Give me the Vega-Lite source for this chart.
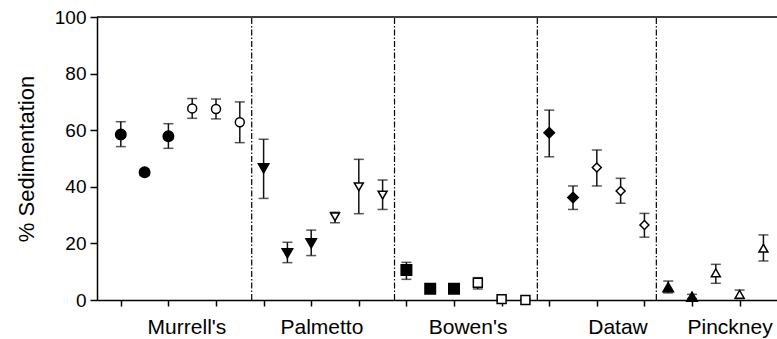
{
  "$schema": "https://vega.github.io/schema/vega-lite/v6.json",
  "width": 680,
  "height": 283,
  "autosize": {"type": "none"},
  "padding": {"left": 97, "top": 17, "right": 0, "bottom": 39},
  "background": "white",
  "config": {
    "view": {"stroke": null},
    "font": "Liberation Sans",
    "axisY": {
      "grid": false, "domainColor": "black", "domainWidth": 1.5, "tickColor": "black", "tickWidth": 1.5,
      "tickSize": 7, "labelFontSize": 19, "labelColor": "black", "labelPadding": 4, "labelFont": "Liberation Sans",
      "titleFontSize": 22, "titleFontWeight": "normal", "titleColor": "black", "titlePadding": 16, "titleFont": "Liberation Sans"
    },
    "axisX": {
      "grid": false, "domainColor": "black", "domainWidth": 1.5, "tickColor": "black", "tickWidth": 1.5,
      "tickSize": 6, "labels": false
    }
  },
  "datasets": {
    "pts": [
      {"site": "Murrell's", "idx": 0, "set": "1", "mean": 58.5, "lo": 54.2, "hi": 63.0},
      {"site": "Murrell's", "idx": 1, "set": "1", "mean": 45.1, "lo": 44.0, "hi": 46.2},
      {"site": "Murrell's", "idx": 2, "set": "1", "mean": 57.9, "lo": 53.6, "hi": 62.3},
      {"site": "Murrell's", "idx": 3, "set": "2", "mean": 67.7, "lo": 64.2, "hi": 71.2},
      {"site": "Murrell's", "idx": 4, "set": "2", "mean": 67.5, "lo": 64.0, "hi": 71.0},
      {"site": "Murrell's", "idx": 5, "set": "2", "mean": 62.8, "lo": 55.6, "hi": 70.0},
      {"site": "Palmetto", "idx": 6, "set": "1", "mean": 46.5, "lo": 35.9, "hi": 56.8},
      {"site": "Palmetto", "idx": 7, "set": "1", "mean": 16.5, "lo": 13.2, "hi": 20.4},
      {"site": "Palmetto", "idx": 8, "set": "1", "mean": 20.0, "lo": 15.7, "hi": 24.7},
      {"site": "Palmetto", "idx": 9, "set": "2", "mean": 29.4, "lo": 27.3, "hi": 31.0},
      {"site": "Palmetto", "idx": 10, "set": "2", "mean": 40.0, "lo": 30.5, "hi": 49.7},
      {"site": "Palmetto", "idx": 11, "set": "2", "mean": 37.1, "lo": 32.0, "hi": 42.4},
      {"site": "Bowen's", "idx": 12, "set": "1", "mean": 10.6, "lo": 7.3, "hi": 13.3},
      {"site": "Bowen's", "idx": 13, "set": "1", "mean": 4.0, "lo": 3.0, "hi": 5.0},
      {"site": "Bowen's", "idx": 14, "set": "1", "mean": 4.0, "lo": 3.0, "hi": 5.0},
      {"site": "Bowen's", "idx": 15, "set": "2", "mean": 6.1, "lo": 3.9, "hi": 7.9},
      {"site": "Bowen's", "idx": 16, "set": "2", "mean": 0.3, "lo": 0.0, "hi": 0.6},
      {"site": "Bowen's", "idx": 17, "set": "2", "mean": 0.0, "lo": 0.0, "hi": 0.3},
      {"site": "Dataw", "idx": 18, "set": "1", "mean": 59.1, "lo": 50.6, "hi": 67.1},
      {"site": "Dataw", "idx": 19, "set": "1", "mean": 36.2, "lo": 32.0, "hi": 40.3},
      {"site": "Dataw", "idx": 20, "set": "2", "mean": 46.8, "lo": 40.3, "hi": 53.0},
      {"site": "Dataw", "idx": 21, "set": "2", "mean": 38.5, "lo": 34.2, "hi": 43.0},
      {"site": "Dataw", "idx": 22, "set": "2", "mean": 26.5, "lo": 22.2, "hi": 30.6},
      {"site": "Pinckney", "idx": 23, "set": "1", "mean": 4.5, "lo": 2.5, "hi": 6.7},
      {"site": "Pinckney", "idx": 24, "set": "1", "mean": 1.2, "lo": 0.5, "hi": 2.0},
      {"site": "Pinckney", "idx": 25, "set": "2", "mean": 9.6, "lo": 5.9, "hi": 12.6},
      {"site": "Pinckney", "idx": 26, "set": "2", "mean": 2.0, "lo": 0.5, "hi": 3.5},
      {"site": "Pinckney", "idx": 27, "set": "2", "mean": 18.3, "lo": 13.8, "hi": 23.0}
    ],
    "labels": [
      {"site": "Murrell's", "pos": 2.78},
      {"site": "Palmetto", "pos": 8.45},
      {"site": "Bowen's", "pos": 14.59},
      {"site": "Dataw", "pos": 20.89},
      {"site": "Pinckney", "pos": 25.6}
    ],
    "seps": [{"pos": 5.5}, {"pos": 11.5}, {"pos": 17.5}, {"pos": 22.5}],
    "top": [{"top": 100}]
  },
  "layer": [
    {
      "data": {"name": "top"},
      "mark": {"type": "rule", "color": "black", "strokeWidth": 1.5},
      "encoding": {
        "y": {"field": "top", "type": "quantitative", "title": "% Sedimentation"}
      }
    },
    {
      "data": {"name": "seps"},
      "mark": {"type": "rule", "color": "black", "strokeWidth": 1.2, "strokeDash": [6, 2, 1.5, 2]},
      "encoding": {
        "x": {"field": "pos", "type": "quantitative", "title": null},
        "y": {"datum": 0},
        "y2": {"datum": 100}
      }
    },
    {
      "data": {"name": "pts"},
      "mark": {"type": "rule", "color": "#111", "strokeWidth": 1.5},
      "encoding": {
        "x": {"field": "idx", "type": "quantitative", "title": null},
        "y": {"field": "lo", "type": "quantitative", "title": "% Sedimentation"},
        "y2": {"field": "hi"}
      }
    },
    {
      "data": {"name": "pts"},
      "mark": {"type": "tick", "orient": "horizontal", "size": 10, "thickness": 1.5, "color": "#111"},
      "encoding": {
        "x": {"field": "idx", "type": "quantitative", "title": null},
        "y": {"field": "hi", "type": "quantitative", "title": "% Sedimentation"}
      }
    },
    {
      "data": {"name": "pts"},
      "mark": {"type": "tick", "orient": "horizontal", "size": 10, "thickness": 1.5, "color": "#111"},
      "encoding": {
        "x": {"field": "idx", "type": "quantitative", "title": null},
        "y": {"field": "lo", "type": "quantitative", "title": "% Sedimentation"}
      }
    },
    {
      "data": {"name": "pts"},
      "mark": {"type": "point", "stroke": "black", "strokeWidth": 1.5, "opacity": 1, "fillOpacity": 1},
      "encoding": {
        "x": {
          "field": "idx", "type": "quantitative", "title": null,
          "scale": {"domain": [-1, 27.57], "nice": false, "zero": false},
          "axis": {"values": [0,1,2,3,4,5,6,7,8,9,10,11,12,13,14,15,16,17,18,19,20,21,22,23,24,25,26,27]}
        },
        "y": {
          "field": "mean", "type": "quantitative", "title": "% Sedimentation",
          "scale": {"domain": [0, 100], "nice": false},
          "axis": {
            "values": [0,10,20,30,40,50,60,70,80,90,100],
            "labelExpr": "datum.value % 20 === 0 ? datum.label : ''",
            "encode": {"ticks": {"update": {"x2": {"signal": "datum.value % 20 === 0 ? -7 : -4"}}}}
          }
        },
        "shape": {
          "field": "site", "type": "nominal", "legend": null,
          "scale": {"domain": ["Murrell's", "Palmetto", "Bowen's", "Dataw", "Pinckney"], "range": ["circle", "triangle-down", "square", "diamond", "triangle-up"]}
        },
        "fill": {
          "field": "set", "type": "nominal", "legend": null,
          "scale": {"domain": ["1", "2"], "range": ["black", "white"]}
        },
        "size": {
          "field": "set", "type": "ordinal", "legend": null,
          "scale": {"domain": ["1", "2"], "range": [110, 80]}
        }
      }
    },
    {
      "data": {"name": "labels"},
      "mark": {"type": "text", "fontSize": 21, "font": "Liberation Sans", "color": "black", "baseline": "alphabetic", "align": "center"},
      "encoding": {
        "x": {"field": "pos", "type": "quantitative", "title": null},
        "y": {"datum": -12},
        "text": {"field": "site"}
      }
    }
  ]
}
